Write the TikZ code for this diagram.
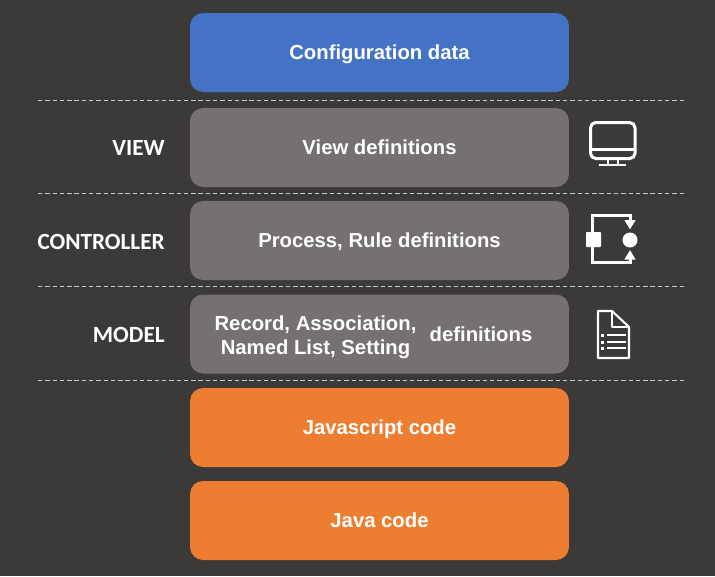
\documentclass[tikz,border=0pt]{standalone}
\usepackage{fontspec}
\setmainfont{Liberation Sans}
\newfontfamily\labelfont{Carlito}
\usetikzlibrary{arrows.meta}
\definecolor{bgdark}{HTML}{3B3A38}
\definecolor{cfgblue}{HTML}{4472C4}
\definecolor{defgray}{HTML}{767171}
\definecolor{codeorange}{HTML}{ED7D31}
\tikzset{
    block/.style={draw=none, rounded corners=0.26cm, minimum width=7.58cm, minimum height=1.58cm,
        text=white, font=\fontsize{11.55}{13.6}\selectfont\bfseries, align=center, inner sep=0pt,
        text height=10.5pt, text depth=2.5pt},
    boxtext/.style={text=white, font=\fontsize{11.55}{13.6}\selectfont\bfseries, align=center, inner sep=0pt},
    layer/.style={anchor=base east, text=white, font=\fontsize{13.2}{15}\selectfont\labelfont\bfseries, inner sep=0pt},
    divider/.style={white!78!black, dash pattern=on 2.5pt off 1.65pt, line width=0.5pt},
    icon/.style={white, line width=1.7pt},
    iconthin/.style={white, line width=1.2pt}
}
\begin{document}
\begin{tikzpicture}[x=0.02cm, y=-0.02cm]
    \fill[bgdark] (0,0) rectangle (715,576);
    \useasboundingbox (0,0) rectangle (715,576);

    % Blocks
    \node[block, fill=cfgblue] (config) at (379.5,52.5) {Configuration data};
    \node[block, fill=defgray] (viewdef) at (379.5,147.5) {View definitions};
    \node[block, fill=defgray] (procdef) at (379.5,240.5) {Process, Rule definitions};
    \node[block, fill=defgray] (modeldef) at (379.5,334) {};
    \node[block, fill=codeorange] (jscode) at (379.5,427.5) {Javascript code};
    \node[block, fill=codeorange] (javacode) at (379.5,520.5) {Java code};

    % Model text
    \node[boxtext] (modellist) at (315.5,337.5) {Record, Association,\\Named List, Setting};
    \node[boxtext, anchor=base] (modelword) at (481,341) {definitions};

    % Layers
    \node[layer] (view) at (165,155) {VIEW};
    \node[layer] (controller) at (165,249) {CONTROLLER};
    \node[layer] (model) at (165,342) {MODEL};

    % Dividers
    \foreach \y in {100.5,193.5,286.5,380.5}
        \draw[divider] (38,\y) -- (686,\y);

    % Screen icon
    \draw[icon, rounded corners=3pt] (590.5,122.5) rectangle (635,158.5);
    \draw[icon] (590.5,149) -- (635,149);
    \draw[iconthin] (608,158.5) -- (608,165) (618,158.5) -- (618,165);
    \draw[iconthin] (599,165) -- (626,165);

    % Flow icon
    \fill[white, rounded corners=0.5pt] (586,232) rectangle (601,247);
    \fill[white] (630,240) circle (7.5);
    \draw[icon, -{Triangle[length=5.4pt, width=6pt]}] (592.7,232) -- (592.7,215.5) -- (630,215.5) -- (630,229.5);
    \draw[icon, -{Triangle[length=5.4pt, width=6pt]}] (592.7,247) -- (592.7,262.5) -- (630,262.5) -- (630,250);

    % Document icon
    \draw[iconthin, line join=round] (612,311) -- (598,311) -- (598,358) -- (629,358) -- (629,327) -- cycle;
    \draw[iconthin, line join=round] (612,311) -- (612,327) -- (629,327);
    \foreach \y in {335,342,348} {
        \fill[white] (601,\y-1.5) rectangle (604,\y+1.5);
        \draw[iconthin] (607,\y) -- (626,\y);
    }
\end{tikzpicture}
\end{document}
